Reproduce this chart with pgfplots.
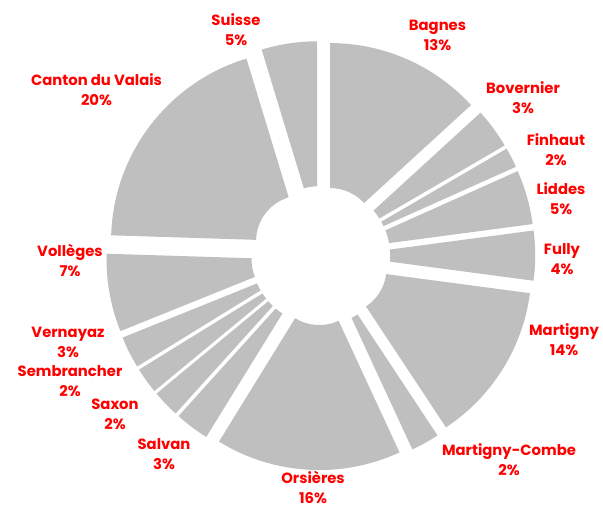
\documentclass[border=0pt]{standalone}
\usepackage{pgfplots}
\usepackage{pgfplotstable}
\pgfplotsset{compat=1.18}
\usepackage{fontspec}
\setmainfont{Poppins}
\definecolor{slicegray}{HTML}{BFBFBF}
\definecolor{labred}{HTML}{FF0000}

% name, share (%), label centre in picture pixels (x from left, y from top)
\pgfplotstableread[col sep=comma]{
name,value,lx,ly
Bagnes,13.2,437.5,35
Bovernier,3.4,523,98
Finhaut,1.7,556,150
Liddes,4.6,561,199
Fully,4.2,562,259
Martigny,13.6,564,340
Martigny-Combe,2.4,509,460
Orsières,15.7,313,487
Salvan,2.9,164,454
Saxon,2.3,115,414
Sembrancher,2.2,70,381.5
Vernayaz,2.7,68,342
Vollèges,6.6,70,260
Canton du Valais,19.8,96.5,90
Suisse,4.7,236,30
}\data
\pgfplotstablecreatecol[create col/expr accum={\pgfmathaccuma + \thisrow{value}}{0}]{cum}\data

\begin{document}
\begin{tikzpicture}
\begin{axis}[x=1bp,y=1bp,xmin=0,xmax=603,ymin=0,ymax=509,hide axis,clip=false]
\path (rel axis cs:0,0) rectangle (rel axis cs:1,1);
\pgfplotsinvokeforeach{0,...,14}{%
  \pgfplotstablegetelem{#1}{value}\of\data \let\myval\pgfplotsretval
  \pgfplotstablegetelem{#1}{cum}\of\data \let\mycum\pgfplotsretval
  \pgfplotstablegetelem{#1}{name}\of\data \let\myname\pgfplotsretval
  \pgfplotstablegetelem{#1}{lx}\of\data \let\mylx\pgfplotsretval
  \pgfplotstablegetelem{#1}{ly}\of\data \let\myly\pgfplotsretval
  \pgfmathsetmacro\aone{90-3.6*(\mycum-\myval)}
  \pgfmathsetmacro\atwo{90-3.6*\mycum}
  \pgfmathsetmacro\amid{(\aone+\atwo)/2}
  \pgfmathsetmacro\sx{320.7+23.5*cos(\amid)}
  \pgfmathsetmacro\sy{253.4+23.5*sin(\amid)}
  \pgfmathsetmacro\nly{509-\myly}
  \pgfmathtruncatemacro\pct{round(\myval)}
  \edef\temp{\noexpand\fill[slicegray] ([shift={(\aone:191bp)}]axis cs:\sx,\sy) arc[start angle=\aone, end angle=\atwo, radius=191bp] -- ([shift={(\atwo:46bp)}]axis cs:\sx,\sy) arc[start angle=\atwo, end angle=\aone, radius=46bp] -- cycle;
  \noexpand\node[text=labred, align=center, inner sep=0pt, font=\noexpand\fontsize{14.8bp}{20bp}\noexpand\selectfont\noexpand\bfseries] at (axis cs:\mylx,\nly) {\myname\noexpand\\\pct\noexpand\%};}%
  \temp
}
\end{axis}
\end{tikzpicture}
\end{document}
